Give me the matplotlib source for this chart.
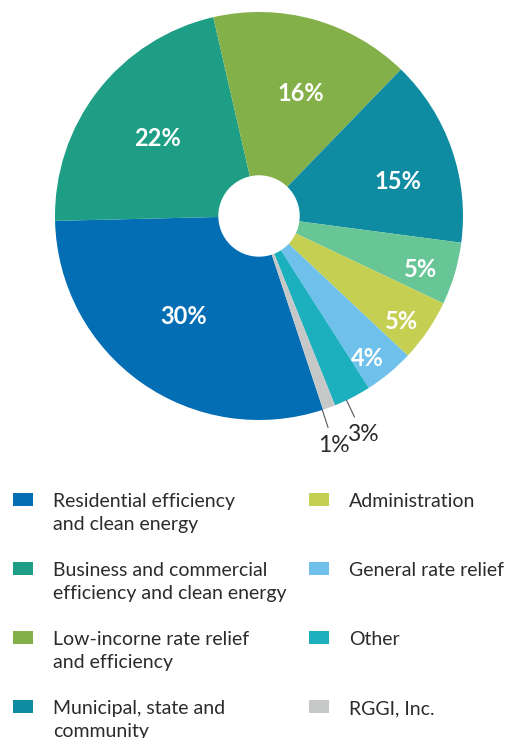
import matplotlib.pyplot as plt
from matplotlib.patches import Circle, Rectangle
import numpy as np

plt.rcParams['font.family'] = ['Lato', 'DejaVu Sans']

# shares of proceeds, in percent (clockwise from the bottom)
categories = ["Residential efficiency\nand clean energy",
              "Business and commercial\nefficiency and clean energy",
              "Low-incorne rate relief\nand efficiency",
              "Municipal, state and\ncommunity",
              "",
              "Administration",
              "General rate relief",
              "Other",
              "RGGI, Inc."]
shares = [30, 22, 16, 15, 5, 5, 4, 3, 1]
colors = ["#036eb4", "#1d9e85", "#84b04a", "#0f8ca1", "#67c596",
          "#c5cf52", "#6fc0eb", "#1cb0be", "#c6c8c8"]

W, H = 507, 738
cx, cy, R = 259, H - 216, 204

fig = plt.figure(figsize=(W / 100, H / 100), dpi=100)
ax = fig.add_axes([0, 0, 1, 1])

wedges, _ = ax.pie(shares, colors=colors, startangle=288.3, counterclock=False,
                   center=(cx, cy), radius=R, wedgeprops=dict(linewidth=0))
ax.add_patch(Circle((cx, cy), 40, color="white", zorder=3))

# inside labels: distance (fraction of radius) and angle nudge (deg)
inner_r = [0.613, 0.626, 0.637, 0.70, 0.835, 0.87, 0.877]
inner_da = [-1.7, 0.7, -3.3, -5.1, -1.7, -2.1, -2.3]
for w, v, f, da in zip(wedges, shares, inner_r, inner_da):
    a = np.deg2rad((w.theta1 + w.theta2) / 2 + da)
    ax.text(cx + f * R * np.cos(a), cy + f * R * np.sin(a), f"{v}%",
            color="white", fontsize=17, fontweight="bold",
            ha="center", va="center")

# small slices get a leader line and an outside label
for w, v, da in zip(wedges[7:], shares[7:], [-1.8, -2.0]):
    a = np.deg2rad((w.theta1 + w.theta2) / 2 + da)
    ax.plot([cx + R * np.cos(a), cx + 1.09 * R * np.cos(a)],
            [cy + R * np.sin(a), cy + 1.09 * R * np.sin(a)],
            color="#555555", lw=0.8)
    ax.text(cx + 1.185 * R * np.cos(a), cy + 1.185 * R * np.sin(a), f"{v}%",
            color="#2b2b2b", fontsize=16.5, ha="center", va="center")

# legend in two columns, five rows per column
for i, (lab, c) in enumerate(zip(categories, colors)):
    if not lab:
        continue
    col, row = divmod(i, 5)
    x0 = 13 + col * 296
    y0 = 493 + row * 69
    ax.add_patch(Rectangle((x0, H - y0 - 13), 20, 13, color=c, lw=0))
    ax.text(x0 + 40, H - y0, lab, fontsize=14, color="#2b2b2b",
            ha="left", va="top", linespacing=1.4)

ax.set_xlim(0, W)
ax.set_ylim(0, H)
ax.set_aspect("equal")
ax.axis("off")

plt.savefig("out.png", dpi=100)
